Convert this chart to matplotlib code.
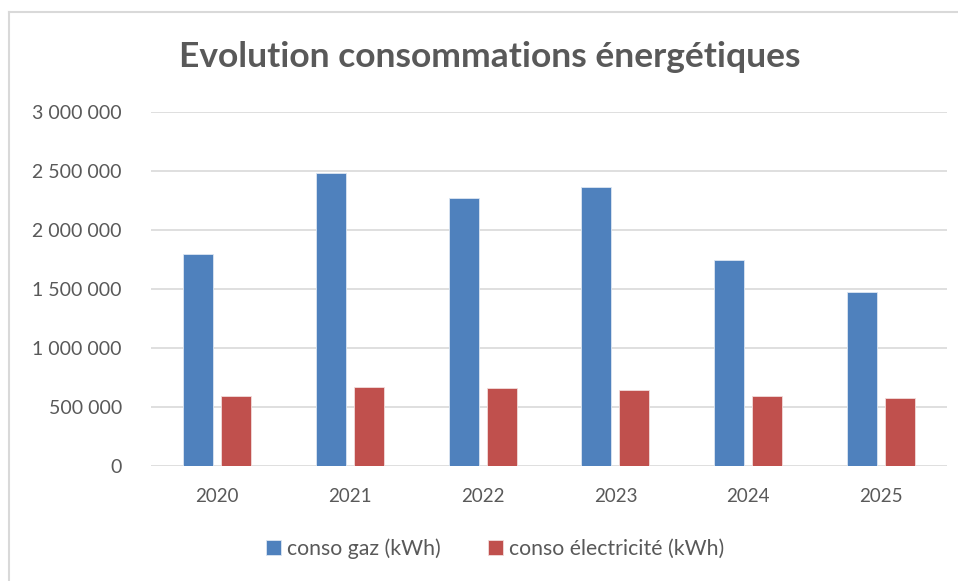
import matplotlib
matplotlib.use("Agg")
import matplotlib.pyplot as plt
import numpy as np
from matplotlib.lines import Line2D
from matplotlib.ticker import FuncFormatter, MultipleLocator

years = ["2020", "2021", "2022", "2023", "2024", "2025"]
gaz = [1_799_000, 2_486_000, 2_268_000, 2_367_000, 1_749_000, 1_475_000]
elec = [596_000, 669_000, 658_000, 641_000, 596_000, 573_000]

BLUE = "#4f81bd"
RED = "#c0504d"
TEXT = "#595959"
GRID = "#d9d9d9"

plt.rcParams["font.family"] = ["Lato", "DejaVu Sans"]

fig = plt.figure(figsize=(9.58, 5.81), dpi=100)
ax = fig.add_axes([0.1576, 0.198, 0.831, 0.609])

x = np.arange(len(years))
w = 0.226
gap = 0.06
ax.bar(x - (w + gap) / 2, gaz, width=w, color=BLUE, edgecolor="#dce6f2",
       linewidth=0.6, label="conso gaz (kWh)", zorder=3)
ax.bar(x + (w + gap) / 2, elec, width=w, color=RED, edgecolor="#f2dcdb",
       linewidth=0.6, label="conso électricité (kWh)", zorder=3)

ax.set_xlim(-0.5, len(years) - 0.5)
ax.set_ylim(0, 3_000_000)
ax.yaxis.set_major_locator(MultipleLocator(500_000))
ax.yaxis.set_major_formatter(FuncFormatter(lambda v, p: f"{v:,.0f}".replace(",", " ")))
ax.set_xticks(x)
ax.set_xticklabels(years)
ax.grid(axis="y", color=GRID, linewidth=1.2, zorder=0)
for s in ax.spines.values():
    s.set_visible(False)
ax.tick_params(axis="both", length=0, colors=TEXT)
ax.tick_params(axis="y", pad=21, labelsize=14)
ax.tick_params(axis="x", pad=16, labelsize=13.5)

fig.text(0.511, 0.902, "Evolution consommations énergétiques", ha="center",
         va="center", fontsize=25.5, fontweight="bold", color=TEXT)

fig.legend(loc="center", bbox_to_anchor=(0.517, 0.055), ncol=2, frameon=False,
           fontsize=15.3, labelcolor=TEXT, handlelength=0.7, handleheight=0.7,
           columnspacing=2.2, handletextpad=0.3)

# chart border (partially cropped in the screenshot)
fig.add_artist(Line2D([0.009, 1.0], [1 - 12 / 581] * 2, color=GRID, linewidth=1.5))
fig.add_artist(Line2D([0.009, 0.009], [0, 1 - 12 / 581], color=GRID, linewidth=1.5))

fig.savefig("out.png", dpi=100)
